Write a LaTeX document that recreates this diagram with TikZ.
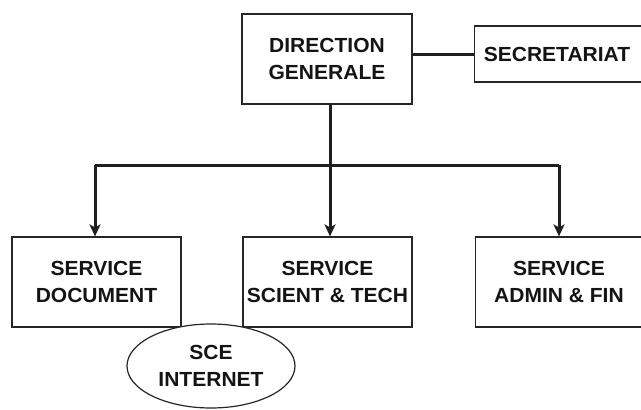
\documentclass[tikz,border=0pt]{standalone}
\usepackage{fontspec}
\setmainfont{Liberation Sans}[FakeStretch=1.03]
\usetikzlibrary{arrows.meta,shapes.geometric}
\begin{document}
\begin{tikzpicture}[x=1pt,y=-1pt,
  lbl/.style={align=center, font=\bfseries\fontsize{20.4}{27}\selectfont, text=black!92},
  box/.style={lbl, draw=black!85, line width=1.2pt, fill=white, inner sep=0pt},
  conn/.style={draw=black!88, line width=3pt},
  arr/.style={conn, -{Stealth[length=12pt,width=11pt,inset=3pt]}}]
\useasboundingbox (0,0) rectangle (641,410);
\clip (0,0) rectangle (641,410);
\node[box, minimum width=170pt, minimum height=90pt] (dg) at (327,59) {DIRECTION\\GENERALE};
\node[box, minimum width=170pt, minimum height=56pt, anchor=west] (sec) at (474,54) {};
\node[lbl] (sectext) at (557,54) {SECRETARIAT};
\node[box, minimum width=169pt, minimum height=90pt] (sd) at (96.5,282) {SERVICE\\DOCUMENT};
\node[box, minimum width=169pt, minimum height=90pt] (sst) at (327.5,282) {SERVICE\\SCIENT \& TECH};
\node[box, minimum width=169pt, minimum height=90pt, anchor=west] (saf) at (475,282) {};
\node[lbl] (saftext) at (559,282) {SERVICE\\ADMIN \& FIN};
\node[box, ellipse, minimum width=168pt, minimum height=84pt] (sce) at (211,366) {SCE\\INTERNET};
\coordinate (j) at (330,165);
\coordinate (l) at (95,165);
\coordinate (r) at (559,165);
\draw[conn] (dg.east |- sec.west) -- (sec.west);
\draw[conn] (dg.south -| j) -- (j);
\draw[conn] (l) -- (r);
\draw[arr] (l) -- (l |- sd.north);
\draw[arr] (j) -- (j |- sst.north);
\draw[arr] (r) -- (r |- saf.north);
\end{tikzpicture}
\end{document}
